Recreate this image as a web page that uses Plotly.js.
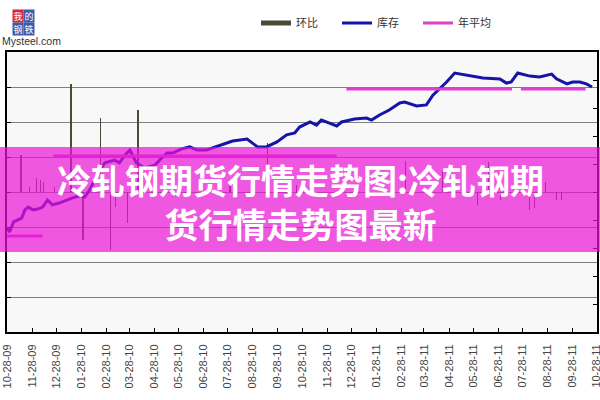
<!DOCTYPE html>
<html>
<head>
<meta charset="utf-8">
<script src="https://cdn.plot.ly/plotly-3.0.1.min.js"></script>
<style>html,body{margin:0;padding:0;background:#fff;}#chart{width:600px;height:400px;}</style>
</head>
<body>
<div id="chart"></div>
<script>
// ---- data ----
var tickDates = ['2009-10-28','2009-11-28','2009-12-28','2010-01-28','2010-02-28','2010-03-28','2010-04-28','2010-05-28','2010-06-28',
  '2010-07-28','2010-08-28','2010-09-28','2010-10-28','2010-11-28','2010-12-28','2011-01-28','2011-02-28','2011-03-28',
  '2011-04-28','2011-05-28','2011-06-28','2011-07-28','2011-08-28','2011-09-28','2011-10-28'];

var stockDates = ['2009-10-28','2009-10-31','2009-11-05','2009-11-10','2009-11-15','2009-11-19','2009-11-23','2009-11-29','2009-12-05','2009-12-11',
  '2009-12-17','2009-12-23','2010-01-01','2010-01-10','2010-01-17','2010-01-26','2010-02-01','2010-02-07','2010-02-13','2010-02-20',
  '2010-02-26','2010-03-10','2010-03-16','2010-03-23','2010-03-29','2010-04-06','2010-04-16','2010-04-29','2010-05-07','2010-05-14',
  '2010-05-21','2010-06-01','2010-06-11','2010-06-20','2010-07-02','2010-07-14','2010-07-24','2010-08-03','2010-08-21','2010-09-03',
  '2010-09-14','2010-09-27','2010-10-09','2010-10-19','2010-10-25','2010-11-07','2010-11-15','2010-11-21','2010-12-01','2010-12-10',
  '2010-12-16','2011-01-01','2011-01-16','2011-01-22','2011-02-01','2011-02-13','2011-02-26','2011-03-04','2011-03-19','2011-03-31',
  '2011-04-08','2011-04-17','2011-04-25','2011-05-05','2011-05-20','2011-06-09','2011-06-30','2011-07-08','2011-07-14','2011-07-22',
  '2011-08-06','2011-08-18','2011-09-02','2011-09-08','2011-09-21','2011-09-28','2011-10-07','2011-10-15','2011-10-22'];
var stockValues = [37.1,35.7,39.3,40.0,40.7,43.6,44.6,43.6,43.9,44.6,
  47.1,45.4,46.1,47.1,47.9,48.6,48.2,50.7,54.3,57.9,
  60.4,61.4,60.4,63.2,65.0,60.4,58.6,59.6,62.1,63.9,
  63.9,65.4,66.1,65.0,65.0,66.1,67.1,68.2,68.9,66.1,
  66.1,67.9,70.4,71.1,73.2,75.0,73.9,75.7,74.6,73.6,
  75.0,76.1,76.4,75.7,77.5,79.3,81.8,82.1,80.7,81.1,
  84.6,87.1,89.3,92.5,91.8,90.7,90.4,88.9,89.3,92.5,
  91.4,91.1,92.1,90.4,88.6,89.3,89.3,88.6,87.5];

var avgDates = ['2009-10-28','2009-12-11',null,'2009-12-24','2010-12-10',null,'2010-12-22','2011-07-15',null,'2011-07-26','2011-10-14'];
var avgValues = [34.3,34.3,null,62.9,62.9,null,86.8,86.8,null,86.8,86.8];

var changeDates = ['2009-11-14','2009-11-25','2009-12-03','2009-12-08','2009-12-12','2009-12-26','2010-01-15','2010-01-30','2010-02-21','2010-03-05',
  '2010-03-11','2010-03-26','2010-04-08','2010-05-21','2010-07-31','2010-09-15','2010-10-21','2011-03-05','2011-04-20','2011-06-02',
  '2011-06-16','2011-07-01','2011-08-06','2011-08-12','2011-08-25','2011-09-08','2011-09-14'];
var changeValues = [1.06,0.15,0.4,0.35,0.3,0.15,3.09,-1.37,2.11,-1.66,
  -0.43,-0.89,2.34,-0.15,0.2,1.4,0.2,0.9,0.6,-0.37,
  0.86,-0.23,-0.51,-0.46,0.29,-0.23,-0.23];

var seriesNames = ['环比','库存','年平均'];
var titleLines = ['冷轧钢期货行情走势图:冷轧钢期','货行情走势图最新'];

// ---- layout helpers (pixel -> paper / container) ----
var W = 600, H = 400;
var L = 7, R = 597, T = 52, B = 332;
function px(x){ return (x - L) / (R - L); }
function py(y){ return (B - y) / (B - T); }

var cOlive = '#4a4a36', cBlue = '#1414a8', cMag = '#dd3fd2';

var traces = [
  {type:'bar', x:changeDates, y:changeValues, yaxis:'y', width:1.6*86400000,
   marker:{color:cOlive, line:{width:0}}, showlegend:false, legendgroup:'a', name:seriesNames[0]},
  {type:'scatter', mode:'lines', x:[null], y:[null], name:seriesNames[0], legendgroup:'a',
   line:{color:cOlive, width:5}},
  {type:'scatter', mode:'lines', x:stockDates, y:stockValues, yaxis:'y2', name:seriesNames[1],
   line:{color:cBlue, width:3}},
  {type:'scatter', mode:'lines', x:avgDates, y:avgValues, yaxis:'y2', name:seriesNames[2],
   connectgaps:false, line:{color:cMag, width:3}}
];

var cjk = '"Noto Sans CJK SC", sans-serif';
var annotations = [
  {xref:'paper', yref:'paper', x:px(300), y:py(201), text:titleLines.join('<br>'), showarrow:false, align:'center',
   font:{family:cjk, size:34, color:'#ffffff', weight:'bold'}, xanchor:'center', yanchor:'middle'},
  {xref:'paper', yref:'paper', x:px(12), y:py(9), text:'我', showarrow:false, bgcolor:'#d2283a',
   font:{family:cjk, size:9, color:'#fff'}, borderpad:0, width:10, height:12},
  {xref:'paper', yref:'paper', x:px(23), y:py(9), text:'的', showarrow:false, bgcolor:'#3c5aa8',
   font:{family:cjk, size:9, color:'#fff'}, borderpad:0, width:10, height:12},
  {xref:'paper', yref:'paper', x:px(12), y:py(22), text:'钢', showarrow:false, bgcolor:'#3c5aa8',
   font:{family:cjk, size:9, color:'#fff'}, borderpad:0, width:10, height:12},
  {xref:'paper', yref:'paper', x:px(23), y:py(22), text:'铁', showarrow:false, bgcolor:'#3c5aa8',
   font:{family:cjk, size:9, color:'#fff'}, borderpad:0, width:10, height:12},
  {xref:'paper', yref:'paper', x:px(0), y:py(41), text:'Mysteel.com', showarrow:false, xanchor:'left', yanchor:'middle',
   font:{family:'Liberation Sans, Arial, sans-serif', size:10.5, color:'#333'}}
];

var shapes = [
  {type:'rect', xref:'paper', yref:'paper', x0:px(0), x1:px(600), y0:py(252), y1:py(147),
   fillcolor:'rgba(236,18,215,0.7)', line:{width:0}, layer:'above'}
];

var layout = {
  width:W, height:H,
  margin:{l:L, r:W-R, t:T, b:H-B, pad:0, autoexpand:false},
  paper_bgcolor:'#ffffff', plot_bgcolor:'#f8f8f8',
  showlegend:true,
  legend:{orientation:'h', xref:'container', yref:'container', x:256/W, y:1-23/H, xanchor:'left', yanchor:'middle',
    font:{family:cjk, size:11, color:'#333'}, bgcolor:'rgba(0,0,0,0)',
    entrywidth:36, entrywidthmode:'pixels', itemwidth:30, traceorder:'normal'},
  xaxis:{type:'date', range:['2009-10-27 20:00','2011-10-28 04:00'], tickmode:'array', tickvals:tickDates,
    tickformat:'%m-%d-%y', tickangle:-90, ticks:'inside', ticklen:4, tickcolor:'#000', automargin:false,
    ticklabeloverflow:'allow',
    showgrid:false, zeroline:false, showline:true, linecolor:'#000', linewidth:2, mirror:true,
    ticklabelstandoff:6,
    tickfont:{family:'Liberation Sans, Arial, sans-serif', size:11, color:'#444'}},
  yaxis:{range:[-4,4], dtick:1, showticklabels:false, showgrid:true, gridcolor:'#808080', gridwidth:1, automargin:false,
    zeroline:false, ticks:'inside', ticklen:4, tickcolor:'#000', showline:true, linecolor:'#000', linewidth:2},
  yaxis2:{range:[0,100], dtick:10, overlaying:'y', side:'right', showticklabels:false, showgrid:false, automargin:false,
    zeroline:false, ticks:'inside', ticklen:4, tickcolor:'#000', showline:true, linecolor:'#000', linewidth:2},
  bargap:0,
  annotations:annotations,
  shapes:shapes,
  hovermode:false
};

Plotly.newPlot('chart', traces, layout, {displayModeBar:false, staticPlot:true});
</script>
</body>
</html>
